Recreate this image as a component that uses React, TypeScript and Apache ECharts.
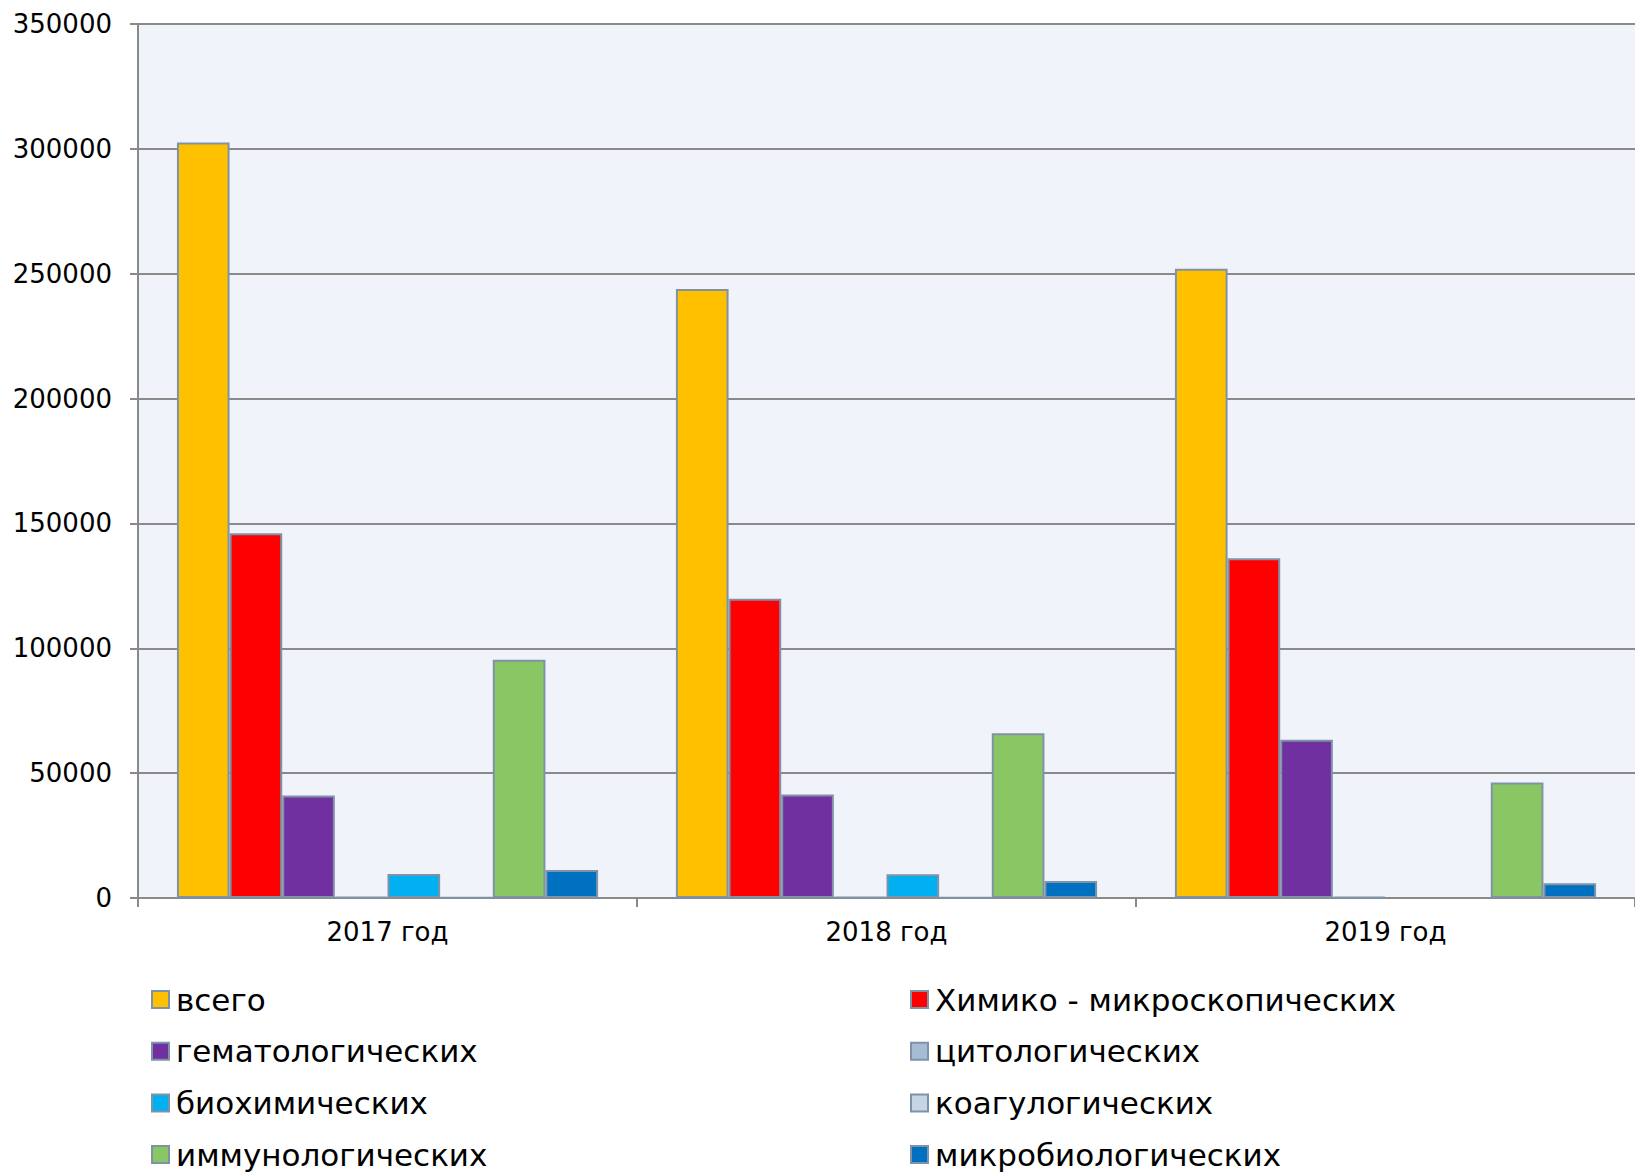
import React, { useEffect, useRef } from "react";
import * as echarts from "echarts";

const categories = ["2017 год", "2018 год", "2019 год"];
const seriesNames = [
  "всего",
  "Химико - микроскопических",
  "гематологических",
  "цитологических",
  "биохимических",
  "коагулогических",
  "иммунологических",
  "микробиологических",
];
const vsego = [302500, 243900, 252000];
const himiko = [146100, 119800, 136100];
const gemato = [41000, 41400, 63400];
const cito = [500, 500, 500];
const bioh = [9600, 9500, 0];
const koag = [300, 300, 0];
const immuno = [95400, 66000, 46300];
const mikrobio = [11200, 6800, 5900];
const yTicks = [0, 50000, 100000, 150000, 200000, 250000, 300000, 350000];

const colors = ["#FFC000", "#FF0000", "#7030A0", "#A5BCD4", "#00B0F0", "#C5D5E6", "#88C764", "#0070C0"];
const allData = [vsego, himiko, gemato, cito, bioh, koag, immuno, mikrobio];

const leftLegend = [seriesNames[0], seriesNames[2], seriesNames[4], seriesNames[6]];
const rightLegend = [seriesNames[1], seriesNames[3], seriesNames[5], seriesNames[7]];

const FONT = "'DejaVu Sans', Verdana, sans-serif";

export default function App() {
  const ref = useRef<HTMLDivElement>(null);
  useEffect(() => {
    if (!ref.current) return;
    const chart = echarts.init(ref.current, null, { renderer: "svg" });
    const legendCommon = {
      orient: "vertical" as const,
      top: 984,
      height: 188,
      padding: 0,
      itemWidth: 17,
      itemHeight: 17,
      itemGap: 20.7,
      icon: "rect",
      selectedMode: false,
      textStyle: {
        fontFamily: FONT,
        fontSize: 31,
        color: "#000",
        lineHeight: 31,
        padding: [0, 0, 0, 2],
      },
    };
    chart.setOption({
      animation: false,
      backgroundColor: "#fff",
      grid: {
        left: 138,
        top: 24,
        width: 1498,
        height: 874,
        show: true,
        backgroundColor: "#F0F3F9",
        borderWidth: 0,
      },
      legend: [
        { ...legendCommon, left: 151, data: leftLegend },
        { ...legendCommon, left: 910, data: rightLegend },
      ],
      xAxis: {
        type: "category",
        data: categories,
        axisLine: { lineStyle: { color: "#8A8A8A", width: 2 } },
        axisTick: { show: true, length: 9, lineStyle: { color: "#8A8A8A", width: 2 } },
        axisLabel: { fontFamily: FONT, fontSize: 26, color: "#000", margin: 21 },
        splitLine: { show: false },
      },
      yAxis: {
        type: "value",
        min: yTicks[0],
        max: yTicks[yTicks.length - 1],
        interval: yTicks[1] - yTicks[0],
        axisLine: { show: true, lineStyle: { color: "#8A8A8A", width: 2 } },
        axisTick: { show: true, length: 8, lineStyle: { color: "#8A8A8A", width: 2 } },
        axisLabel: {
          fontFamily: FONT,
          fontSize: 26,
          color: "#000",
          margin: 26,
          formatter: (v: number) => String(v),
        },
        splitLine: { show: true, lineStyle: { color: "#8A8A8A", width: 2 } },
      },
      series: seriesNames.map((name, i) => ({
        name,
        type: "bar",
        barGap: "0%",
        barCategoryGap: "15.6%",
        data: allData[i].map((v) => (v === 0 ? null : v)),
        itemStyle: { color: colors[i], borderColor: "#7F93A8", borderWidth: 2 },
      })),
    });
    return () => chart.dispose();
  }, []);
  return (
    <div
      ref={ref}
      style={{ position: "absolute", left: 0, top: 0, width: 1635, height: 1174, background: "#fff" }}
    />
  );
}
